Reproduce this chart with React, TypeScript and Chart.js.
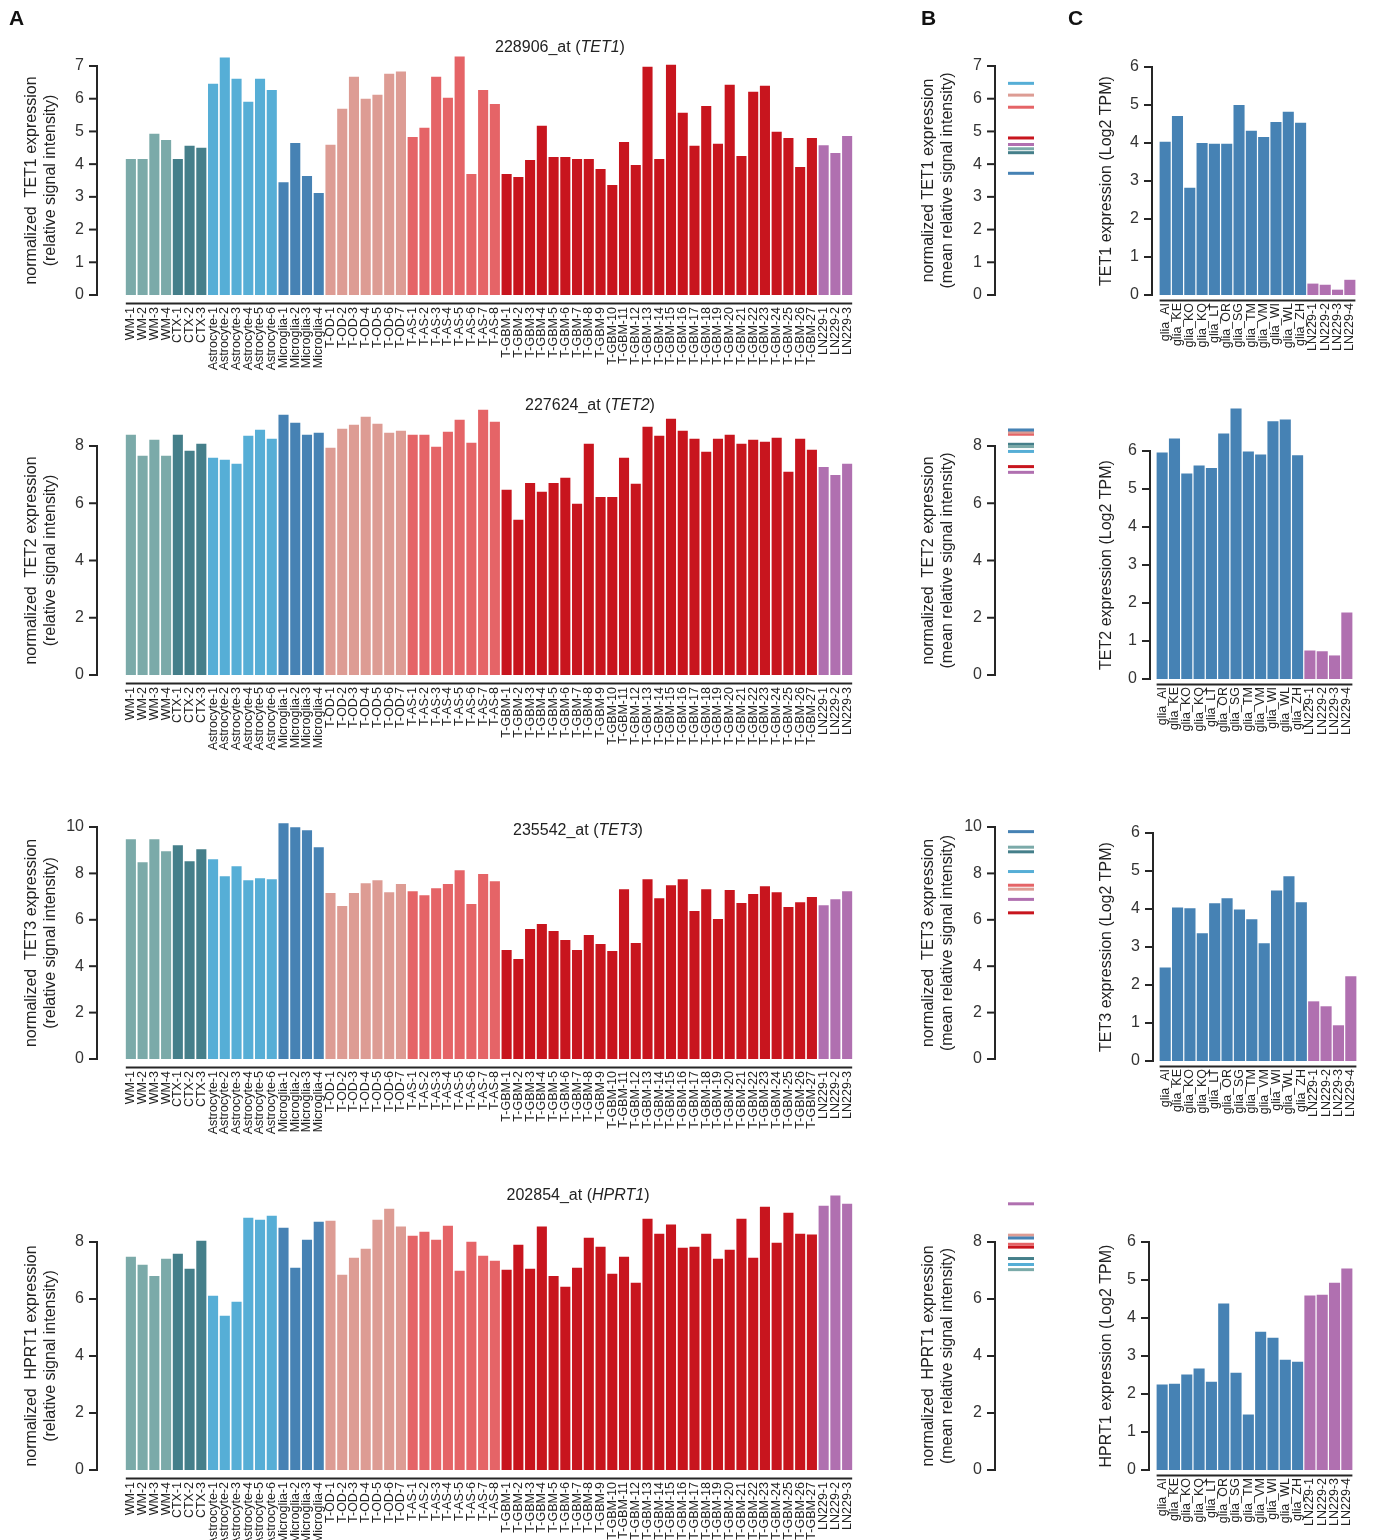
import React, { useEffect, useRef } from 'react';
import { Chart, registerables } from 'chart.js';

Chart.register(...registerables);

const FONT = '"Liberation Sans", Arial, Helvetica, sans-serif';

// ---------------- categories ----------------
const sampleLabels = [
  'WM-1', 'WM-2', 'WM-3', 'WM-4',
  'CTX-1', 'CTX-2', 'CTX-3',
  'Astrocyte-1', 'Astrocyte-2', 'Astrocyte-3', 'Astrocyte-4', 'Astrocyte-5', 'Astrocyte-6',
  'Microglia-1', 'Microglia-2', 'Microglia-3', 'Microglia-4',
  'T-OD-1', 'T-OD-2', 'T-OD-3', 'T-OD-4', 'T-OD-5', 'T-OD-6', 'T-OD-7',
  'T-AS-1', 'T-AS-2', 'T-AS-3', 'T-AS-4', 'T-AS-5', 'T-AS-6', 'T-AS-7', 'T-AS-8',
  'T-GBM-1', 'T-GBM-2', 'T-GBM-3', 'T-GBM-4', 'T-GBM-5', 'T-GBM-6', 'T-GBM-7', 'T-GBM-8', 'T-GBM-9',
  'T-GBM-10', 'T-GBM-11', 'T-GBM-12', 'T-GBM-13', 'T-GBM-14', 'T-GBM-15', 'T-GBM-16', 'T-GBM-17',
  'T-GBM-18', 'T-GBM-19', 'T-GBM-20', 'T-GBM-21', 'T-GBM-22', 'T-GBM-23', 'T-GBM-24', 'T-GBM-25',
  'T-GBM-26', 'T-GBM-27',
  'LN229-1', 'LN229-2', 'LN229-3',
];
const groupNames = ['WM', 'CTX', 'Astrocyte', 'Microglia', 'T-OD', 'T-AS', 'T-GBM', 'LN229'];
const groupSizes = [4, 3, 6, 4, 7, 8, 27, 3];
const groupColors = ['#7BAAA9', '#457F8A', '#56AED6', '#4682B4', '#DD9C94', '#E56467', '#C8151E', '#B070B0'];

const cellLabels = [
  'glia_AI', 'glia_KE', 'glia_KO', 'glia_KQ', 'glia_LT', 'glia_OR', 'glia_SG', 'glia_TM',
  'glia_VM', 'glia_WI', 'glia_WL', 'glia_ZH', 'LN229-1', 'LN229-2', 'LN229-3', 'LN229-4',
];
const cellGroupSizes = [12, 4];
const cellGroupColors = ['#4682B4', '#B070B0'];

const probes = ['228906_at', '227624_at', '235542_at', '202854_at'];
const genes = ['TET1', 'TET2', 'TET3', 'HPRT1'];

// ---------------- panel A: per-sample microarray values ----------------
const tet1Samples = [
  4.16, 4.16, 4.93, 4.74,
  4.16, 4.56, 4.50,
  6.46, 7.26, 6.61, 5.91, 6.61, 6.27,
  3.45, 4.65, 3.64, 3.12,
  4.59, 5.69, 6.67, 6.00, 6.12, 6.76, 6.83,
  4.83, 5.11, 6.67, 6.03, 7.29, 3.70, 6.27, 5.84,
  3.70, 3.61, 4.13, 5.17, 4.22, 4.22, 4.16, 4.16, 3.85, 3.36, 4.68, 3.97, 6.98, 4.16,
  7.04, 5.57, 4.56, 5.78, 4.62, 6.43, 4.25, 6.21, 6.40, 4.99, 4.80, 3.91, 4.80,
  4.58, 4.34, 4.86,
];
const tet2Samples = [
  8.39, 7.66, 8.22, 7.66,
  8.39, 7.83, 8.08,
  7.59, 7.52, 7.38, 8.36, 8.57, 8.25,
  9.09, 8.81, 8.39, 8.46,
  7.94, 8.60, 8.74, 9.02, 8.78, 8.46, 8.53,
  8.39, 8.39, 7.97, 8.50, 8.92, 8.11, 9.27, 8.85,
  6.47, 5.42, 6.71, 6.40, 6.71, 6.89, 5.98, 8.08, 6.22, 6.22, 7.59, 6.68, 8.67, 8.36,
  8.95, 8.53, 8.25, 7.80, 8.25, 8.39, 8.08, 8.22, 8.15, 8.29, 7.10, 8.25, 7.87,
  7.27, 6.99, 7.38,
];
const tet3Samples = [
  9.47, 8.48, 9.47, 8.95,
  9.21, 8.52, 9.04,
  8.61, 7.88, 8.31, 7.71, 7.79, 7.75,
  10.16, 9.99, 9.86, 9.13,
  7.15, 6.59, 7.15, 7.58, 7.71, 7.19, 7.54,
  7.23, 7.06, 7.36, 7.54, 8.14, 6.68, 7.97, 7.66,
  4.70, 4.31, 5.60, 5.82, 5.52, 5.13, 4.70, 5.34, 4.96, 4.66, 7.32, 5.00, 7.75, 6.93,
  7.49, 7.75, 6.38, 7.32, 6.03, 7.28, 6.72, 7.11, 7.45, 7.19, 6.55, 6.76, 6.98,
  6.63, 6.89, 7.23,
];
const hprt1Samples = [
  7.48, 7.20, 6.81, 7.41,
  7.59, 7.06, 8.04,
  6.11, 5.41, 5.90, 8.85, 8.78, 8.92,
  8.50, 7.10, 8.08, 8.71,
  8.75, 6.85, 7.45, 7.76, 8.78, 9.17, 8.54,
  8.22, 8.36, 8.08, 8.57, 6.99, 8.01, 7.52, 7.34,
  7.03, 7.90, 7.06, 8.54, 6.81, 6.43, 7.10, 8.15, 7.83, 6.89, 7.48, 6.57, 8.82, 8.29,
  8.61, 7.80, 7.83, 8.29, 7.41, 7.73, 8.82, 7.45, 9.24, 7.97, 9.03, 8.29, 8.26,
  9.27, 9.63, 9.34,
];

// ---------------- panel B: group means (WM, CTX, Astrocyte, Microglia, T-OD, T-AS, T-GBM, LN229) ----------------
const tet1Means = [4.47, 4.35, 6.47, 3.72, 6.11, 5.74, 4.80, 4.60];
const tet2Means = [7.98, 8.06, 7.81, 8.56, 8.48, 8.41, 7.28, 7.08];
const tet3Means = [9.13, 8.93, 8.08, 9.80, 7.32, 7.49, 6.30, 6.88];
const hprt1Means = [7.03, 7.42, 7.21, 8.14, 8.24, 7.92, 7.82, 9.34];

// ---------------- panel C: RNA-seq (Log2 TPM) ----------------
const tet1Cells = [4.03, 4.71, 2.82, 4.00, 3.98, 3.98, 5.00, 4.32, 4.16, 4.55, 4.82, 4.53, 0.30, 0.27, 0.14, 0.40];
const tet2Cells = [5.96, 6.33, 5.41, 5.62, 5.55, 6.46, 7.12, 5.99, 5.91, 6.78, 6.83, 5.89, 0.75, 0.73, 0.62, 1.75];
const tet3Cells = [2.46, 4.04, 4.02, 3.36, 4.15, 4.28, 3.99, 3.73, 3.10, 4.49, 4.86, 4.18, 1.57, 1.44, 0.94, 2.23];
const hprt1Cells = [2.25, 2.27, 2.51, 2.67, 2.32, 4.38, 2.56, 1.46, 3.64, 3.48, 2.90, 2.85, 4.59, 4.61, 4.93, 5.30];

// y-axis scales per row
const yMaxA = [7, 8, 10, 8];
const yStepA = [1, 2, 2, 2];

const sampleSeries = [tet1Samples, tet2Samples, tet3Samples, hprt1Samples];
const meanSeries = [tet1Means, tet2Means, tet3Means, hprt1Means];
const cellSeries = [tet1Cells, tet2Cells, tet3Cells, hprt1Cells];

// ---------------- styling helpers ----------------
function expandColors(sizes: number[], colors: string[]) {
  const out: string[] = [];
  sizes.forEach((n, i) => { for (let k = 0; k < n; k++) out.push(colors[i]); });
  return out;
}
const sampleColors = expandColors(groupSizes, groupColors);
const cellColors = expandColors(cellGroupSizes, cellGroupColors);

// page layout (pixel geometry of each row's plotting regions)
const rowLayout = [
  { aTop: 66, aBot: 295, cTop: 67, cBot: 295, cLeft: 1159, cRight: 1356, cGap: 7, titleX: 560, titleY: 47 },
  { aTop: 446, aBot: 675, cTop: 451, cBot: 679, cLeft: 1156, cRight: 1353, cGap: 6, titleX: 590, titleY: 405 },
  { aTop: 827, aBot: 1059, cTop: 833, cBot: 1061, cLeft: 1159, cRight: 1357, cGap: 6, titleX: 578, titleY: 830 },
  { aTop: 1242, aBot: 1470, cTop: 1242, cBot: 1470, cLeft: 1156, cRight: 1353, cGap: 7, titleX: 578, titleY: 1195 },
];

const PAD_TOP = 60;
const PAD_RIGHT = 40;

const rAxesPlugin = {
  id: 'rAxes',
  afterDatasetsDraw(chart: any, _args: any, opts: any) {
    const { ctx, chartArea, scales } = chart;
    const y = scales.y;
    const ax = chartArea.left - opts.axisGap;
    const y0 = y.getPixelForValue(0);
    const yT = y.getPixelForValue(y.max);
    ctx.save();
    ctx.strokeStyle = '#262626';
    ctx.lineWidth = 2;
    ctx.beginPath();
    ctx.moveTo(ax, y0 + 1);
    ctx.lineTo(ax, yT - 1);
    ctx.stroke();
    y.ticks.forEach((t: any) => {
      const py = y.getPixelForValue(t.value);
      ctx.beginPath();
      ctx.moveTo(ax - 8, py);
      ctx.lineTo(ax + 1, py);
      ctx.stroke();
    });
    if (opts.xLineGap != null) {
      const meta = chart.getDatasetMeta(0);
      const first = meta.data[0];
      const last = meta.data[meta.data.length - 1];
      const x1 = first.x - first.width / 2;
      const x2 = last.x + last.width / 2;
      const ly = y0 + opts.xLineGap;
      ctx.beginPath();
      ctx.moveTo(x1, ly);
      ctx.lineTo(x2, ly);
      ctx.stroke();
    }
    ctx.restore();
  },
};

type Spec = {
  kind: 'bar' | 'mean';
  cx: number; cy: number; cw: number; ch: number;
  left: number; top: number; bottom: number;
  yMax: number; yStep: number; axisGap: number;
  title: string | string[]; titlePad: number;
  labels?: string[]; values?: number[]; colors?: string[];
  barPct?: number; xLineGap?: number; labelPad?: number; xAxisH: number;
};

function yScale(p: Spec) {
  return {
    type: 'linear',
    min: 0,
    max: p.yMax,
    grid: { display: false, drawTicks: false },
    border: { display: false },
    ticks: { stepSize: p.yStep, font: { size: 16, family: FONT }, color: '#333', padding: p.axisGap + 13 },
    title: {
      display: true, text: p.title, color: '#222',
      font: { size: 16, family: FONT, lineHeight: 1.2 },
      padding: { top: p.titlePad, bottom: 0 },
    },
    afterFit: (s: any) => { s.width = p.left - p.cx; },
  };
}

function buildConfig(p: Spec): any {
  const base = {
    responsive: false,
    animation: false,
    devicePixelRatio: 1,
    events: [],
    layout: { padding: { left: 0, top: PAD_TOP, right: PAD_RIGHT, bottom: 0 } },
    plugins: {
      legend: { display: false },
      tooltip: { enabled: false },
      rAxes: { axisGap: p.axisGap, xLineGap: p.kind === 'bar' ? p.xLineGap : null },
    },
  };
  if (p.kind === 'bar') {
    return {
      type: 'bar',
      data: {
        labels: p.labels,
        datasets: [{
          data: p.values, backgroundColor: p.colors, borderWidth: 0,
          barPercentage: p.barPct, categoryPercentage: 1, clip: false,
        }],
      },
      options: {
        ...base,
        scales: {
          x: {
            type: 'category',
            grid: { display: false, drawTicks: false },
            border: { display: false },
            ticks: {
              autoSkip: false, minRotation: 90, maxRotation: 90,
              font: { size: 12.5, family: FONT }, color: '#222', padding: p.labelPad,
            },
            afterFit: (s: any) => { s.height = p.xAxisH; },
          },
          y: yScale(p),
        },
      },
      plugins: [rAxesPlugin],
    };
  }
  // mean panel: each group mean is a short horizontal segment spanning the x range
  return {
    type: 'scatter',
    data: {
      datasets: (p.values || []).map((v, i) => ({
        label: groupNames[i],
        data: [{ x: 0, y: v }, { x: 1, y: v }],
        showLine: true,
        pointRadius: 0,
        borderWidth: 3,
        borderColor: groupColors[i],
        backgroundColor: groupColors[i],
        borderCapStyle: 'butt',
        clip: false,
      })),
    },
    options: {
      ...base,
      scales: {
        x: {
          type: 'linear', min: 0, max: 1,
          grid: { display: false, drawTicks: false },
          border: { display: false },
          ticks: { display: false },
          afterFit: (s: any) => { s.height = p.xAxisH; },
        },
        y: yScale(p),
      },
    },
    plugins: [rAxesPlugin],
  };
}

function ChartPanel({ spec }: { spec: Spec }) {
  const ref = useRef<HTMLCanvasElement | null>(null);
  useEffect(() => {
    if (!ref.current) return;
    const chart = new Chart(ref.current, buildConfig(spec));
    return () => chart.destroy();
  }, [spec]);
  return (
    <canvas
      ref={ref}
      width={spec.cw}
      height={spec.ch}
      style={{ position: 'absolute', left: spec.cx, top: spec.cy, width: spec.cw, height: spec.ch }}
    />
  );
}

function buildSpecs(): Spec[] {
  const specs: Spec[] = [];
  rowLayout.forEach((r, i) => {
    const gene = genes[i];
    // Panel A
    const aLeft = 125, aRight = 853, aCx = 0, aXH = 90;
    specs.push({
      kind: 'bar',
      cx: aCx, cy: r.aTop - PAD_TOP, cw: aRight - aCx + PAD_RIGHT,
      ch: (r.aBot - r.aTop) + PAD_TOP + aXH,
      left: aLeft, top: r.aTop, bottom: r.aBot,
      yMax: yMaxA[i], yStep: yStepA[i], axisGap: 28,
      title: ['normalized  ' + gene + ' expression', '(relative signal intensity)'],
      titlePad: 22,
      labels: sampleLabels, values: sampleSeries[i], colors: sampleColors,
      barPct: 0.86, xLineGap: 8.5, labelPad: 12, xAxisH: aXH,
    });
    // Panel B
    const bLeft = 1008, bRight = 1034, bCx = 900, bXH = 45;
    specs.push({
      kind: 'mean',
      cx: bCx, cy: r.aTop - PAD_TOP, cw: bRight - bCx + PAD_RIGHT,
      ch: (r.aBot - r.aTop) + PAD_TOP + bXH,
      left: bLeft, top: r.aTop, bottom: r.aBot,
      yMax: yMaxA[i], yStep: yStepA[i], axisGap: 13,
      title: [(i === 0 ? 'normalized ' : 'normalized  ') + gene + ' expression', '(mean relative signal intensity)'],
      titlePad: 19,
      values: meanSeries[i], xAxisH: bXH,
    });
    // Panel C
    const cCx = 1060, cXH = 70;
    specs.push({
      kind: 'bar',
      cx: cCx, cy: r.cTop - PAD_TOP, cw: r.cRight - cCx + PAD_RIGHT,
      ch: (r.cBot - r.cTop) + PAD_TOP + cXH,
      left: r.cLeft, top: r.cTop, bottom: r.cBot,
      yMax: 6, yStep: 1, axisGap: r.cGap,
      title: gene + ' expression (Log2 TPM)',
      titlePad: 37,
      labels: cellLabels, values: cellSeries[i], colors: cellColors,
      barPct: 0.9, xLineGap: 5.5, labelPad: 8, xAxisH: cXH,
    });
  });
  return specs;
}

const SPECS = buildSpecs();

export default function App() {
  return (
    <div
      style={{
        position: 'absolute', left: 0, top: 0, width: 1375, height: 1540,
        overflow: 'hidden', background: '#fff', fontFamily: FONT, color: '#222',
      }}
    >
      {SPECS.map((s, k) => <ChartPanel key={k} spec={s} />)}
      {rowLayout.map((r, i) => (
        <div
          key={'t' + i}
          style={{
            position: 'absolute', left: r.titleX, top: r.titleY,
            transform: 'translate(-50%, -50%)', whiteSpace: 'nowrap',
            fontSize: 16, lineHeight: 1, color: '#222',
          }}
        >
          {probes[i]} (<i>{genes[i]}</i>)
        </div>
      ))}
      {[['A', 9], ['B', 921], ['C', 1068]].map(([t, x]) => (
        <div
          key={String(t)}
          style={{
            position: 'absolute', left: x as number, top: 7,
            fontSize: 21, fontWeight: 'bold', lineHeight: '21px', color: '#111',
          }}
        >
          {t}
        </div>
      ))}
    </div>
  );
}
